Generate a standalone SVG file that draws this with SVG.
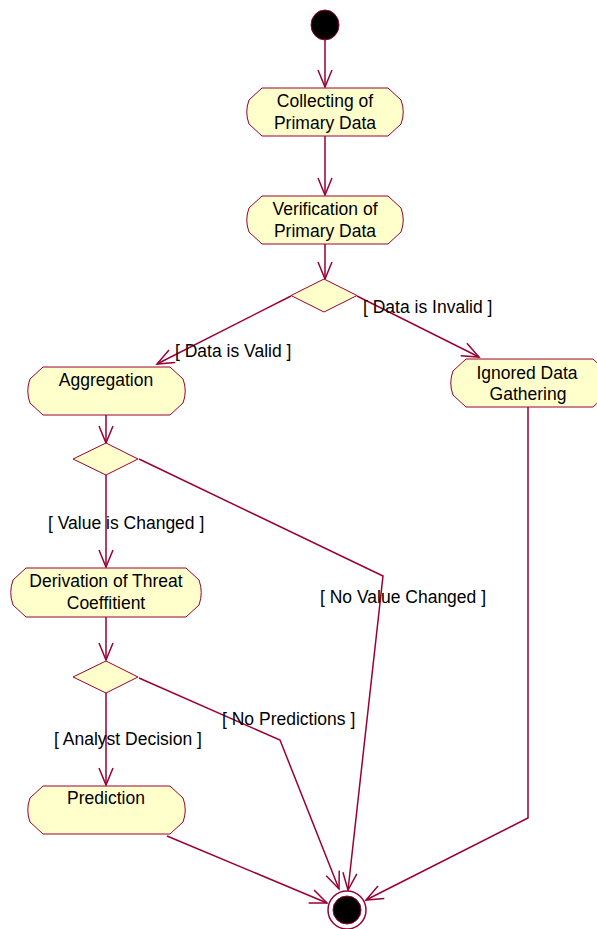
<svg xmlns="http://www.w3.org/2000/svg" width="597" height="929" viewBox="0 0 597 929">
<style>
.act{fill:#FFFFCC;stroke:#990033;stroke-width:1}
.dec{fill:#FFFFCC;stroke:#990033;stroke-width:1}
.edge{fill:none;stroke:#990033;stroke-width:1.5;marker-end:url(#arr)}
text{font-family:"Liberation Sans",Arial,sans-serif;font-size:17.5px;fill:#000}
.c{text-anchor:middle}
</style>
<defs>
<marker id="arr" markerUnits="userSpaceOnUse" markerWidth="20" markerHeight="16" viewBox="0 0 20 16" refX="18" refY="8" orient="auto">
<path d="M1,1 L18,8 L1,15" fill="none" stroke="#990033" stroke-width="1.5"/>
</marker>
</defs>
<g id="connectors">
<path class="edge" d="M325,40 V87"/>
<path class="edge" d="M325,136 V195"/>
<path class="edge" d="M325,244 V279"/>
<path class="edge" d="M291,296 L157,364"/>
<path class="edge" d="M357,296 L479,357"/>
<path class="edge" d="M106,415 V443"/>
<path class="edge" d="M106,475 V567"/>
<path class="edge" d="M139,459 L383,576 L348,890"/>
<path class="edge" d="M106,617 V660"/>
<path class="edge" d="M106,693 V785"/>
<path class="edge" d="M139,678 L280,740 L339,889"/>
<path class="edge" d="M167,836 L327,903"/>
<path class="edge" d="M528,407 V818 L366,900"/>
</g>
<g id="start"><ellipse cx="325" cy="25" rx="14" ry="15" fill="#000" stroke="#990033" stroke-width="1"/></g>
<g id="collecting">
<path class="act" d="M262,88 H388 L401,100 Q405.5,112 401,124 L388,136 H262 L249,124 Q244.5,112 249,100 Z"/>
<text class="c" x="325" y="106.5">Collecting of</text>
<text class="c" x="325" y="128.5">Primary Data</text>
</g>
<g id="verification">
<path class="act" d="M262,196 H388 L401,208 Q405.5,220 401,232 L388,244 H262 L249,232 Q244.5,220 249,208 Z"/>
<text class="c" x="325" y="215">Verification of</text>
<text class="c" x="325" y="237">Primary Data</text>
</g>
<g id="decision1"><path class="dec" d="M324,279 L357,295.5 L324,312 L291,295.5 Z"/></g>
<g id="aggregation">
<path class="act" d="M43,367 H170 L183,379 Q187.5,391 183,403 L170,415 H43 L30,403 Q25.5,391 30,379 Z"/>
<text class="c" x="106" y="386">Aggregation</text>
</g>
<g id="ignored">
<path class="act" d="M466,359 H593 L606,371 Q610.5,383 606,395 L593,407 H466 L453,395 Q448.5,383 453,371 Z"/>
<text class="c" x="527" y="378.5">Ignored Data</text>
<text class="c" x="528" y="400">Gathering</text>
</g>
<g id="decision2"><path class="dec" d="M106,443 L138,459 L106,475 L73,459 Z"/></g>
<g id="derivation">
<path class="act" d="M26,568 H186 L199,580 Q203.5,592.5 199,605 L186,617 H26 L13,605 Q8.5,592.5 13,580 Z"/>
<text class="c" x="106" y="587">Derivation of Threat</text>
<text class="c" x="106" y="609">Coeffitient</text>
</g>
<g id="decision3"><path class="dec" d="M106,661 L138,677 L106,693 L73,677 Z"/></g>
<g id="prediction">
<path class="act" d="M43,786 H170 L183,798 Q187.5,810 183,822 L170,834 H43 L30,822 Q25.5,810 30,798 Z"/>
<text class="c" x="106" y="804">Prediction</text>
</g>
<g id="end">
<circle cx="347" cy="910" r="19" fill="#fff" stroke="#990033" stroke-width="1.5"/>
<circle cx="347" cy="910" r="14" fill="#000" stroke="#990033" stroke-width="1"/>
</g>
<g id="labels">
<text x="175" y="357">[ Data is Valid ]</text>
<text x="363" y="313">[ Data is Invalid ]</text>
<text x="48" y="529">[ Value is Changed ]</text>
<text x="320" y="603">[ No Value Changed ]</text>
<text x="222" y="725">[ No Predictions ]</text>
<text x="54" y="745">[ Analyst Decision ]</text>
</g>
</svg>
